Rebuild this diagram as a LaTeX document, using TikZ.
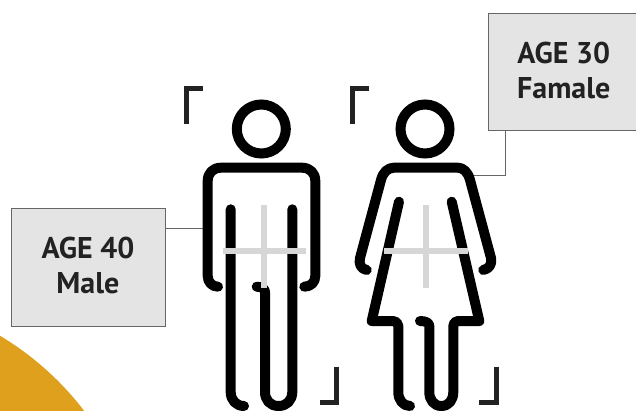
\documentclass[tikz,border=0pt]{standalone}
\usepackage{fontspec}
\setmainfont{PT Sans}
\definecolor{boxfill}{HTML}{E4E4E4}
\definecolor{boxline}{HTML}{666666}
\definecolor{crossgrey}{HTML}{D6D6D6}
\definecolor{bracketc}{HTML}{222222}
\definecolor{amber}{HTML}{DFA01E}
\tikzset{
  figline/.style={line width=10pt,black,line cap=round,line join=round},
  crossline/.style={line width=6pt,crossgrey},
  bracketline/.style={line width=5pt,bracketc},
  labelbox/.style={draw=boxline,fill=boxfill,line width=0.9pt,inner sep=0pt,align=center,font=\fontsize{30}{35}\selectfont\bfseries,text=bracketc,anchor=north west},
  leader/.style={line width=0.8pt,boxline}
}
\begin{document}
\begin{tikzpicture}[x=1pt,y=-1pt]
\useasboundingbox (0,0) rectangle (636,411);
\fill[white] (0,0) rectangle (636,411);
\begin{scope}
\clip (0,0) rectangle (636,411);
\fill[amber] (-152,591) circle (297);
\end{scope}
% labels
\node[labelbox,minimum width=154pt,minimum height=117pt] (male) at (10.5,208.5) {AGE 40\\Male\rule[-4pt]{0pt}{4pt}};
\node[labelbox,minimum width=150pt,minimum height=117pt] (female) at (488.3,13.3) {AGE 30\\Famale\rule[-4pt]{0pt}{4pt}};
% connectors
\coordinate (mhand) at (205,228.3);
\coordinate (ftip) at (473,175.3);
\coordinate (fbend) at (505.7,175.3);
\draw[leader] (male.east |- mhand) -- (mhand);
\draw[leader] (female.south -| fbend) -- (fbend) -- (ftip);
% heads
\node[draw,line width=10pt,circle,minimum size=49pt,inner sep=0pt] (mhead) at (261.3,129) {};
\node[draw,line width=10pt,circle,minimum size=49pt,inner sep=0pt] (fhead) at (425,129) {};
% male
\draw[figline] (218,286.7) .. controls (212,286.7) and (207.7,282) .. (207.7,276)
  -- (207.7,181) .. controls (207.7,173) and (213,167.7) .. (221,167.7) -- (302,167.7)
  .. controls (310,167.7) and (315.3,173) .. (315.3,181) -- (315.3,276)
  .. controls (315.3,282) and (311,286.7) .. (304.3,286.7);
\draw[figline] (230.7,209.3) -- (230.7,392) .. controls (230.7,400) and (236,406) .. (244,406);
\draw[figline] (292.3,209.3) -- (292.3,392)
  .. controls (292.3,400) and (287,406) .. (278.6,406)
  .. controls (270,406) and (265,400) .. (265,392) -- (265,292)
  .. controls (265,289) and (262,286.7) .. (256.7,286.7);
\draw[crossline] (223.3,251.3) -- (306,251.3);
\draw[crossline] (264.3,205) -- (264.3,288.3);
% female
\draw[figline] (366.7,270) .. controls (361,269) and (358.5,264) .. (360,258)
  -- (381,180) .. controls (383,172) and (388,167.7) .. (394,167.7) -- (458,167.7)
  .. controls (463,167.7) and (468,172) .. (470,180)
  -- (491,258) .. controls (492.5,264) and (489,269) .. (483.3,270);
\draw[figline] (399,201.7) -- (371.7,321) -- (393,321) .. controls (396,321) and (398.3,323) .. (398.3,326)
  -- (398.3,392) .. controls (398.3,400) and (403,406) .. (410,406);
\draw[figline] (451.7,201.7) -- (479.3,321) -- (458,321) .. controls (455,321) and (453.3,323) .. (453.3,326)
  -- (453.3,392) .. controls (453.3,400) and (449,406) .. (441.3,406)
  .. controls (434,406) and (429.3,400) .. (429.3,392) -- (429.3,326)
  .. controls (429.3,323) and (426,321) .. (420,321);
\draw[crossline] (384.3,251.3) -- (468.3,251.3);
\draw[crossline] (426.3,205) -- (426.3,288.3);
% brackets
\draw[bracketline] (186,124.3) -- (186,89) -- (203,89);
\draw[bracketline] (336.7,366.7) -- (336.7,402) -- (320,402);
\draw[bracketline] (352,124.3) -- (352,89) -- (368.7,89);
\draw[bracketline] (496,366.7) -- (496,402) -- (479.3,402);
\end{tikzpicture}
\end{document}
